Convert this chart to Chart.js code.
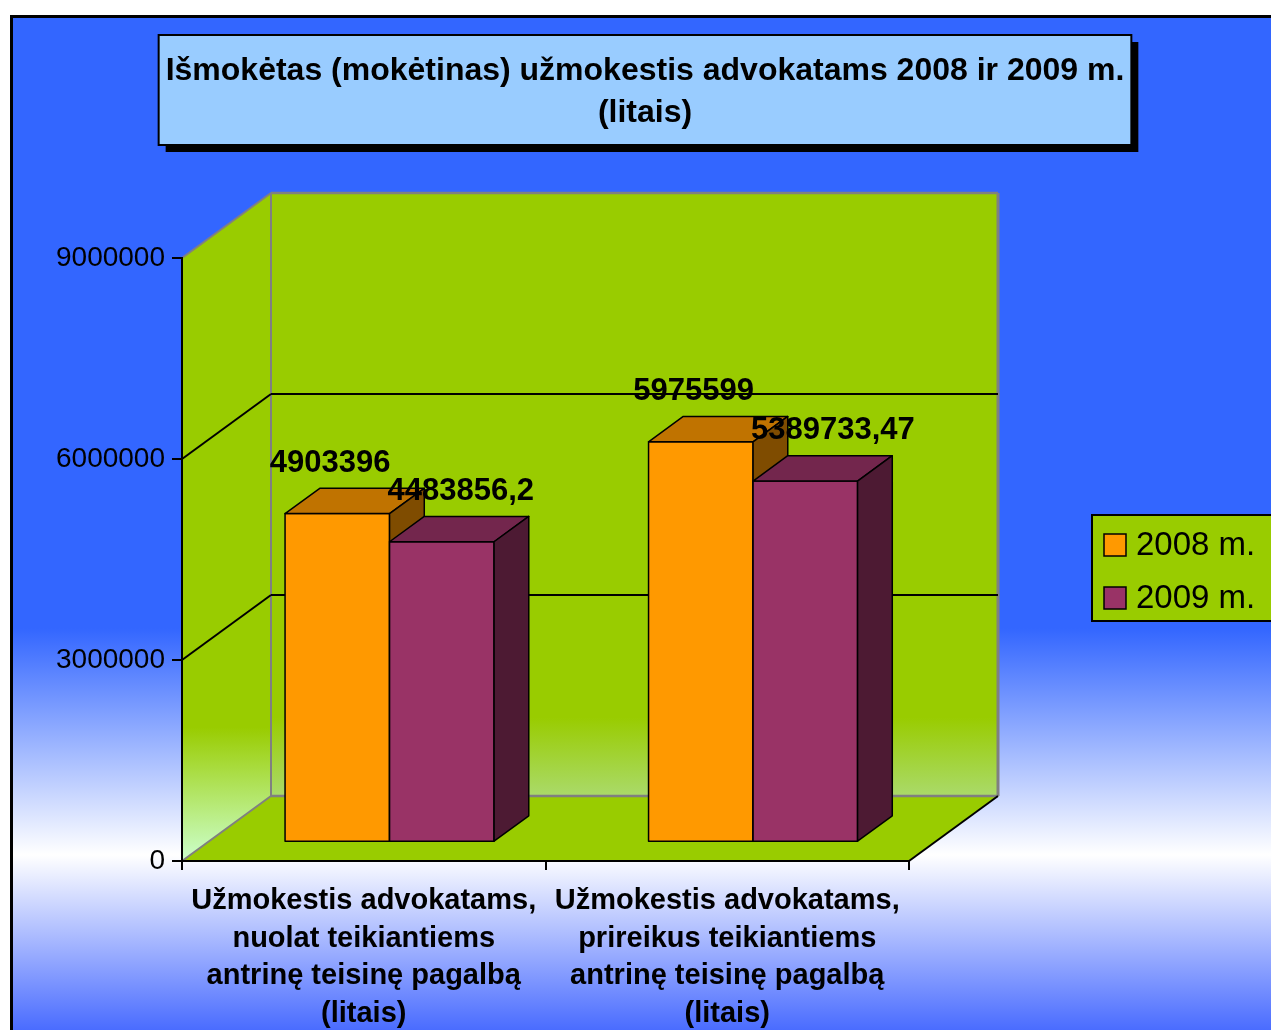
<!DOCTYPE html>
<html>
<head>
<meta charset="utf-8">
<script src="https://cdn.jsdelivr.net/npm/chart.js"></script>
<style>
  html, body { margin: 0; padding: 0; background: #fff; }
</style>
</head>
<body>
<canvas id="payChart" width="1271" height="1030"></canvas>
<script>
// chart data
const categories = [
  ['Užmokestis advokatams,', 'nuolat teikiantiems', 'antrinę teisinę pagalbą', '(litais)'],
  ['Užmokestis advokatams,', 'prireikus teikiantiems', 'antrinę teisinę pagalbą', '(litais)']
];
const seriesNames = ['2008 m.', '2009 m.'];
const values2008 = [4903396, 5975599];
const values2009 = [4483856.2, 5389733.47];
const yTicks = [0, 3000000, 6000000, 9000000];
const titleLines = ['Išmokėtas (mokėtinas) užmokestis advokatams 2008 ir 2009 m.', '(litais)'];

// colours: front / top / side of each series
const frontColors = ['#FF9900', '#993366'];
const topColors = ['#C07300', '#73264D'];
const sideColors = ['#7F4C00', '#4D1A33'];
const WALL_GREEN = '#99CC00';

const FONT = "'Liberation Sans', Arial, sans-serif";
Chart.defaults.font.family = FONT;
Chart.defaults.color = '#000';

// depth of the 3D box and where bars sit inside it
const DX = 89, DY = -65;
const BAR_FRONT = 0.29, BAR_DEPTH = 0.39;

function poly(ctx, pts, fill, stroke, lw) {
  ctx.beginPath();
  ctx.moveTo(pts[0][0], pts[0][1]);
  for (let i = 1; i < pts.length; i++) ctx.lineTo(pts[i][0], pts[i][1]);
  ctx.closePath();
  if (fill) { ctx.fillStyle = fill; ctx.fill(); }
  if (stroke) { ctx.strokeStyle = stroke; ctx.lineWidth = lw || 1; ctx.stroke(); }
}

function line(ctx, x1, y1, x2, y2, color, lw) {
  ctx.beginPath();
  ctx.moveTo(x1, y1);
  ctx.lineTo(x2, y2);
  ctx.strokeStyle = color;
  ctx.lineWidth = lw;
  ctx.stroke();
}

const scenePlugin = {
  id: 'scene3d',
  beforeDraw(chart) {
    const { ctx, width, height } = chart;
    const a = chart.chartArea;
    const yScale = chart.scales.y;
    ctx.save();

    // page background with gradient and frame
    ctx.fillStyle = '#fff';
    ctx.fillRect(0, 0, width, height);
    const bg = ctx.createLinearGradient(0, 0, 0, height);
    bg.addColorStop(0, '#3366FF');
    bg.addColorStop(0.61, '#3366FF');
    bg.addColorStop(0.83, '#FFFFFF');
    bg.addColorStop(1, '#4A6CFF');
    ctx.fillStyle = bg;
    ctx.fillRect(11, 16, width, height);
    ctx.strokeStyle = '#000';
    ctx.lineWidth = 3;
    ctx.strokeRect(11.5, 16.5, width + 20, height + 20);

    // title box
    ctx.font = 'bold 32px ' + FONT;
    const tw = Math.max(...titleLines.map(t => ctx.measureText(t).width));
    const cx = 645, bw = tw + 14, bh = 110, bx = cx - bw / 2, by = 35;
    ctx.fillStyle = '#000';
    ctx.fillRect(bx + 7, by + 7, bw, bh);
    ctx.fillStyle = '#99CCFF';
    ctx.fillRect(bx, by, bw, bh);
    ctx.lineWidth = 2;
    ctx.strokeRect(bx, by, bw, bh);
    ctx.fillStyle = '#000';
    ctx.textAlign = 'center';
    ctx.textBaseline = 'middle';
    titleLines.forEach((t, i) => ctx.fillText(t, cx, 71 + i * 42));

    // walls and floor
    const L = a.left, R = a.right, T = a.top, B = a.bottom;
    const backGrad = ctx.createLinearGradient(0, T + DY, 0, B + DY);
    backGrad.addColorStop(0, WALL_GREEN);
    backGrad.addColorStop(0.87, WALL_GREEN);
    backGrad.addColorStop(1, '#AADA6A');
    poly(ctx, [[L + DX, T + DY], [R + DX, T + DY], [R + DX, B + DY], [L + DX, B + DY]], backGrad);

    const sideGrad = ctx.createLinearGradient(0, T + DY, 0, B);
    sideGrad.addColorStop(0, WALL_GREEN);
    sideGrad.addColorStop(0.8, WALL_GREEN);
    sideGrad.addColorStop(1, '#CCFFCC');
    poly(ctx, [[L, T], [L + DX, T + DY], [L + DX, B + DY], [L, B]], sideGrad);

    poly(ctx, [[L, B], [L + DX, B + DY], [R + DX, B + DY], [R, B]], WALL_GREEN);

    // wall outlines
    const grey = '#808080';
    line(ctx, L, T, L + DX, T + DY, grey, 2);
    line(ctx, L + DX, T + DY, R + DX, T + DY, grey, 2.5);
    line(ctx, R + DX, T + DY, R + DX, B + DY, grey, 3);
    line(ctx, L + DX, T + DY, L + DX, B + DY, grey, 2);
    line(ctx, L, B, L + DX, B + DY, grey, 2);
    line(ctx, L + DX, B + DY, R + DX, B + DY, grey, 2.5);

    // gridlines on side and back walls
    yTicks.forEach(v => {
      if (v <= yScale.min || v >= yScale.max) return;
      const yy = yScale.getPixelForValue(v);
      line(ctx, L, yy, L + DX, yy + DY, '#000', 2);
      line(ctx, L + DX, yy + DY, R + DX, yy + DY, '#000', 2);
    });

    // right edge of the floor
    line(ctx, R, B, R + DX, B + DY, '#000', 2);
    ctx.restore();
  },
  beforeDatasetsDraw(chart) {
    const { ctx } = chart;
    const metas = chart.data.datasets.map((d, i) => chart.getDatasetMeta(i));
    const fx = BAR_FRONT * DX, fy = BAR_FRONT * DY;
    const bx = BAR_DEPTH * DX, by = BAR_DEPTH * DY;
    ctx.save();
    ctx.lineJoin = 'round';
    const labels = [];
    categories.forEach((c, i) => {
      metas.forEach((meta, d) => {
        const el = meta.data[i];
        const x0 = el.x - el.width / 2 + fx, x1 = el.x + el.width / 2 + fx;
        const yt = el.y + fy, yb = el.base + fy;
        poly(ctx, [[x0, yt], [x1, yt], [x1, yb], [x0, yb]], frontColors[d], '#000', 1.5);
        poly(ctx, [[x0, yt], [x1, yt], [x1 + bx, yt + by], [x0 + bx, yt + by]], topColors[d], '#000', 1.5);
        poly(ctx, [[x1, yt], [x1 + bx, yt + by], [x1 + bx, yb + by], [x1, yb]], sideColors[d], '#000', 1.5);
        const v = chart.data.datasets[d].data[i];
        labels.push({
          text: String(v).replace('.', ','),
          x: d === 0 ? x1 + 1 : x0 - 2,
          align: d === 0 ? 'right' : 'left',
          y: yt + by - 25
        });
      });
    });
    ctx.fillStyle = '#000';
    ctx.font = 'bold 31px ' + FONT;
    ctx.textBaseline = 'middle';
    labels.forEach(l => {
      ctx.textAlign = l.align;
      ctx.fillText(l.text, l.x, l.y);
    });
    ctx.restore();
    return false;
  },
  afterDraw(chart) {
    const { ctx } = chart;
    ctx.save();
    ctx.fillStyle = WALL_GREEN;
    ctx.fillRect(1092, 515, 220, 106);
    ctx.strokeStyle = '#000';
    ctx.lineWidth = 2;
    ctx.strokeRect(1092, 515, 220, 106);
    ctx.font = '33px ' + FONT;
    ctx.textAlign = 'left';
    ctx.textBaseline = 'middle';
    chart.data.datasets.forEach((ds, i) => {
      const cy = 545 + i * 53;
      ctx.fillStyle = ds.backgroundColor;
      ctx.fillRect(1104, cy - 11, 22, 22);
      ctx.lineWidth = 1.5;
      ctx.strokeRect(1104, cy - 11, 22, 22);
      ctx.fillStyle = '#000';
      ctx.fillText(ds.label, 1136, cy + 1);
    });
    ctx.restore();
  }
};

new Chart(document.getElementById('payChart'), {
  type: 'bar',
  data: {
    labels: categories,
    datasets: [
      { label: seriesNames[0], data: values2008, backgroundColor: frontColors[0] },
      { label: seriesNames[1], data: values2009, backgroundColor: frontColors[1] }
    ]
  },
  options: {
    responsive: false,
    animation: false,
    devicePixelRatio: 1,
    layout: { padding: { top: 258, right: 362, bottom: 0, left: 0 } },
    datasets: { bar: { categoryPercentage: 0.575, barPercentage: 1 } },
    plugins: {
      legend: { display: false },
      title: { display: false },
      tooltip: { enabled: false }
    },
    scales: {
      x: {
        grid: { offset: true, drawOnChartArea: false, tickLength: 9, color: '#000', lineWidth: 2 },
        border: { color: '#000', width: 2 },
        ticks: { font: { size: 29, weight: 'bold', lineHeight: 1.3 }, padding: 12, maxRotation: 0 },
        afterFit: s => { s.height = 169; }
      },
      y: {
        min: 0,
        max: 9000000,
        grid: { drawOnChartArea: false, tickLength: 10, color: '#000', lineWidth: 2 },
        border: { color: '#000', width: 2 },
        ticks: { stepSize: 3000000, font: { size: 28 }, padding: 7, callback: v => String(v) },
        afterFit: s => { s.width = 182; }
      }
    }
  },
  plugins: [scenePlugin]
});
</script>
</body>
</html>
